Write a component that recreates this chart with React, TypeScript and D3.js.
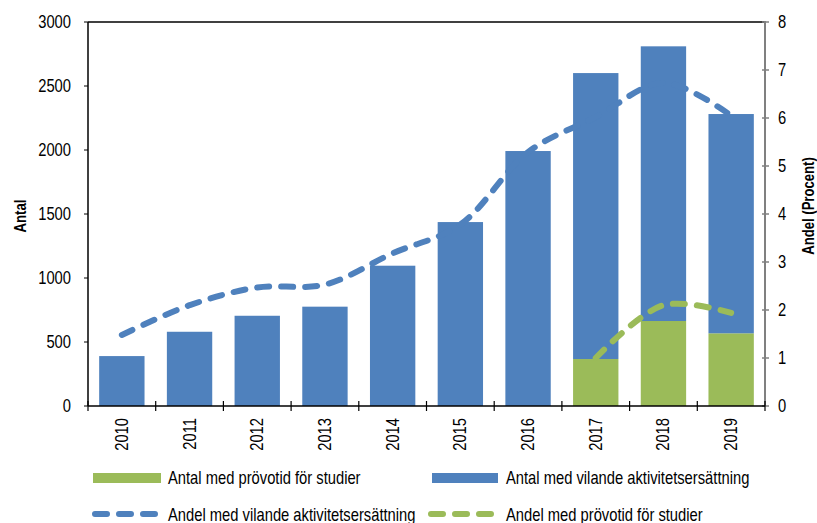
import React from "react";
import * as d3 from "d3";

const years = ["2010", "2011", "2012", "2013", "2014", "2015", "2016", "2017", "2018", "2019"];
const antalVilande = [390, 580, 705, 776, 1096, 1437, 1992, 2234, 2146, 1713];
const antalProvotid = [0, 0, 0, 0, 0, 0, 0, 367, 664, 568];
const andelVilande = [1.48, 2.1, 2.47, 2.53, 3.18, 3.78, 5.29, 6.02, 6.73, 6.05];
const andelProvotid: (number | null)[] = [null, null, null, null, null, null, null, 1.0, 2.1, 1.94];
const leftTicks = [0, 500, 1000, 1500, 2000, 2500, 3000];
const rightTicks = [0, 1, 2, 3, 4, 5, 6, 7, 8];

const W = 817, H = 523;
const L = 88, R = 765, T = 22, B = 406;
const BLUE = "#4f81bd", GREEN = "#9bbb59";
const FONT = "'Liberation Sans', Arial, sans-serif";
const SX = 0.82;

function NText(props: { x: number; y: number; rotate?: number; anchor?: string; size?: number; bold?: boolean; dy?: string; children: React.ReactNode }) {
  const { x, y, rotate = 0, anchor = "start", size = 18, bold = false, dy, children } = props;
  return (
    <text transform={`translate(${x},${y}) rotate(${rotate}) scale(${SX},1)`} textAnchor={anchor}
      fontSize={size} fontWeight={bold ? "bold" : "normal"} dy={dy} fill="#000">{children}</text>
  );
}

export default function App() {
  const x = d3.scaleBand().domain(years).range([L, R]).paddingInner(0.33).paddingOuter(0.165);
  const xb = d3.scaleBand().domain(years).range([L, R]);
  const yL = d3.scaleLinear().domain([0, 3000]).range([B, T]);
  const yR = d3.scaleLinear().domain([0, 8]).range([B, T]);
  const cx = (y: string) => (xb(y) as number) + xb.bandwidth() / 2;

  const line = d3.line<[string, number | null]>()
    .defined(d => d[1] != null)
    .x(d => cx(d[0]))
    .y(d => yR(d[1] as number))
    .curve(d3.curveCatmullRom.alpha(0.5));

  const blueLine = line(years.map((y, i) => [y, andelVilande[i]]));
  const greenLine = line(years.map((y, i) => [y, andelProvotid[i]]));
  const dash = "12,12";

  return (
    <svg width={W} height={H} style={{ position: "absolute", left: 0, top: 0, fontFamily: FONT }}>
      <rect width={W} height={H} fill="#fff" />
      {years.map((y, i) => (
        <g key={y}>
          {antalProvotid[i] > 0 && (
            <rect x={x(y)} width={x.bandwidth()} y={yL(antalProvotid[i])} height={B - yL(antalProvotid[i])} fill={GREEN} />
          )}
          <rect x={x(y)} width={x.bandwidth()} y={yL(antalProvotid[i] + antalVilande[i])}
            height={yL(antalProvotid[i]) - yL(antalProvotid[i] + antalVilande[i])} fill={BLUE} />
        </g>
      ))}
      <path d={blueLine ?? ""} fill="none" stroke={BLUE} strokeWidth={6} strokeDasharray={dash} strokeLinecap="round" />
      <path d={greenLine ?? ""} fill="none" stroke={GREEN} strokeWidth={6} strokeDasharray={dash} strokeLinecap="round" />
      <line x1={L} x2={R} y1={T} y2={T} stroke="#000" strokeWidth={1.5} />
      <line x1={L} x2={L} y1={T} y2={B} stroke="#000" strokeWidth={1.5} />
      {leftTicks.map(t => (
        <g key={t}>
          <line x1={L - 4} x2={L} y1={yL(t)} y2={yL(t)} stroke="#000" />
          <NText x={L - 17} y={yL(t)} dy="0.35em" anchor="end">{t}</NText>
        </g>
      ))}
      <NText x={26} y={(T + B) / 2 + 2} rotate={-90} anchor="middle" size={16} bold>Antal</NText>
      <line x1={R} x2={R} y1={T - 1} y2={B} stroke="#808080" strokeWidth={2} />
      {rightTicks.map(t => (
        <g key={t}>
          <line x1={R - 3} x2={R + 4} y1={yR(t)} y2={yR(t)} stroke="#808080" strokeWidth={1.5} />
          <NText x={R + 13} y={yR(t)} dy="0.35em">{t}</NText>
        </g>
      ))}
      <NText x={814} y={206} rotate={-90} anchor="middle" size={16} bold>Andel (Procent)</NText>
      <line x1={L} x2={R} y1={B} y2={B} stroke="#000" strokeWidth={1.5} />
      {years.map(y => (
        <line key={"t" + y} x1={xb(y)} x2={xb(y)} y1={B - 5} y2={B + 5} stroke="#000" strokeWidth={1.2} />
      ))}
      <line x1={R} x2={R} y1={B - 5} y2={B + 5} stroke="#000" strokeWidth={1.2} />
      {years.map(y => (
        <NText key={"l" + y} x={cx(y) + 6} y={B + 12} rotate={-90} anchor="end">{y}</NText>
      ))}
      <rect x={93} y={473} width={68} height={10} fill={GREEN} />
      <NText x={168} y={484}>Antal med prövotid för studier</NText>
      <rect x={432} y={473} width={66} height={10} fill={BLUE} />
      <NText x={506} y={484}>Antal med vilande aktivitetsersättning</NText>
      <line x1={95} x2={158} y1={514} y2={514} stroke={BLUE} strokeWidth={6} strokeDasharray={dash} strokeLinecap="round" />
      <NText x={168} y={521}>Andel med vilande aktivitetsersättning</NText>
      <line x1={431} x2={495} y1={514} y2={514} stroke={GREEN} strokeWidth={6} strokeDasharray={dash} strokeLinecap="round" />
      <NText x={506} y={521}>Andel med prövotid för studier</NText>
    </svg>
  );
}
